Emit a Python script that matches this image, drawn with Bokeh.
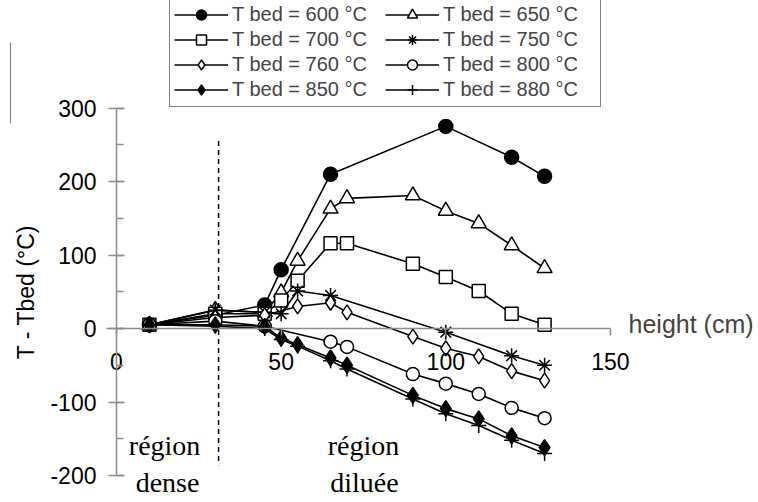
from bokeh.plotting import figure
from bokeh.models import (LinearAxis, FixedTicker, SingleIntervalTicker, Legend, LegendItem,
                          Label, PrintfTickFormatter)
from bokeh.embed import file_html
from bokeh.resources import INLINE
from bokeh.core.properties import value

# ---------------- data ----------------
x_600 = [10, 30, 45, 50, 65, 100, 120, 130]
y_600 = [5, 18, 32, 80, 210, 275, 233, 207]

x_650 = [10, 30, 45, 50, 55, 65, 70, 90, 100, 110, 120, 130]
y_650 = [5, 25, 22, 49, 92, 163, 177, 181, 160, 143, 113, 82]

x_700 = [10, 30, 45, 50, 55, 65, 70, 90, 100, 110, 120, 130]
y_700 = [5, 20, 20, 38, 65, 116, 116, 88, 70, 51, 20, 5]

x_750 = [10, 30, 45, 50, 55, 65, 100, 120, 130]
y_750 = [5, 25, 22, 20, 51, 45, -5, -37, -50]

x_760 = [10, 30, 45, 55, 65, 70, 90, 100, 110, 120, 130]
y_760 = [5, 15, 18, 30, 35, 22, -11, -27, -38, -58, -71]

x_800 = [10, 30, 45, 65, 70, 90, 100, 110, 120, 130]
y_800 = [5, 10, 3, -18, -25, -62, -75, -89, -108, -122]

x_850 = [10, 30, 45, 50, 55, 65, 70, 90, 100, 110, 120, 130]
y_850 = [5, 5, 3, -13, -22, -40, -50, -91, -109, -123, -146, -162]

x_880 = [10, 30, 45, 50, 55, 65, 70, 90, 100, 110, 120, 130]
y_880 = [5, 3, 0, -15, -24, -44, -55, -96, -116, -132, -152, -170]

labels = ["T bed = 600 °C", "T bed = 650 °C", "T bed = 700 °C", "T bed = 750 °C",
          "T bed = 760 °C", "T bed = 800 °C", "T bed = 850 °C", "T bed = 880 °C"]

x_ticks = [0, 50, 100, 150]
divider_x = [31]
divider_y0 = [255]
divider_y1 = [-186]

region_text = ["région", "dense", "région", "diluée"]
region_x = [14.6, 15.5, 75.0, 75.3]
region_y = [-159, -210, -159, -210]

# ---------------- layout ----------------
W, H = 758, 502
X0_PX, XS = 116, 3.293     # pixel of x=0 inside the figure, px per unit
Y0_PX, YS = 328, 0.735     # pixel of y=0 inside the figure, px per unit
x_start = (0 - X0_PX) / XS
x_end = (W - X0_PX) / XS
y_end = (Y0_PX - 0) / YS
y_start = (Y0_PX - H) / YS

p = figure(width=W, height=H, x_range=(x_start, x_end), y_range=(y_start, y_end),
           output_backend="svg", toolbar_location=None, min_border=0,
           x_axis_type=None, y_axis_type=None, outline_line_color=None)

AX = "#8c8c8c"
FONT = "Liberation Sans"

xaxis = LinearAxis(fixed_location=0, ticker=FixedTicker(ticks=x_ticks), bounds=(-3, 150),
                   formatter=PrintfTickFormatter(format="%d"),
                   axis_line_color=AX, axis_line_width=1.5,
                   major_tick_in=0, major_tick_out=7, major_tick_line_color=AX, major_tick_line_width=1.5,
                   minor_tick_line_color=None, major_label_standoff=17,
                   major_label_text_font=FONT, major_label_text_font_size="23px",
                   major_label_text_color="black")
p.add_layout(xaxis, "below")

yaxis = LinearAxis(fixed_location=0, ticker=SingleIntervalTicker(interval=100, num_minor_ticks=2),
                   bounds=(-200, 300), formatter=PrintfTickFormatter(format="%d"),
                   axis_line_color=AX, axis_line_width=1.5,
                   major_tick_in=8, major_tick_out=8, major_tick_line_color=AX, major_tick_line_width=1.5,
                   minor_tick_in=7, minor_tick_out=0, minor_tick_line_color=AX, minor_tick_line_width=1.5,
                   major_label_standoff=12,
                   major_label_text_font=FONT, major_label_text_font_size="23px",
                   major_label_text_color="black",
                   axis_label="T - Tbed (°C)", axis_label_standoff=8,
                   axis_label_text_font=FONT, axis_label_text_font_size="23px",
                   axis_label_text_font_style="normal", axis_label_text_color="black")
p.add_layout(yaxis, "left")

p.add_layout(Label(x=155.5, y=0, text="height (cm)", text_font=FONT, text_font_size="25px",
                   text_baseline="middle", text_align="left", y_offset=5))

# stray scan line at the far left
p.segment(x0=[-32.2], y0=[389], x1=[-32.2], y1=[279], line_color="#777777", line_width=1)

# dashed divider
p.segment(x0=divider_x, y0=divider_y0, x1=divider_x, y1=divider_y1,
          line_color="black", line_width=1.5, line_dash="5 4")

p.text(x=region_x, y=region_y, text=region_text, text_font=value("Liberation Serif"),
       text_font_size="28px", text_align="center", text_baseline="middle", text_color="black")

series = [
    (x_600, y_600, "circle", 14, "black"),
    (x_650, y_650, "triangle", 15, "white"),
    (x_700, y_700, "square", 13, "white"),
    (x_750, y_750, "asterisk", 15, "white"),
    (x_760, y_760, "diamond", 15, "white"),
    (x_800, y_800, "circle", 13, "white"),
    (x_850, y_850, "diamond", 16, "black"),
    (x_880, y_880, "cross", 15, "white"),
]

items = []
for (xs, ys, mk, sz, fill), lab in zip(series, labels):
    l = p.line(xs, ys, line_color="black", line_width=1.6)
    s = p.scatter(xs, ys, marker=mk, size=sz, fill_color=fill, line_color="black", line_width=1.5)
    items.append(LegendItem(label=lab, renderers=[l, s]))

# legend fills column by column: left column 600/700/760/850, right column 650/750/800/880
legend_order = [0, 2, 4, 6, 1, 3, 5, 7]
legend = Legend(items=[items[i] for i in legend_order], ncols=2, location=(169, H - 107), margin=0,
                label_text_font=FONT, label_text_font_size="20px",
                glyph_width=54, glyph_height=25, label_standoff=4, spacing=0, padding=4,
                label_width=153, label_height=25,
                border_line_color="black", border_line_width=1, background_fill_color="white")
p.add_layout(legend)

open("out.html", "w").write(file_html(p, INLINE))
